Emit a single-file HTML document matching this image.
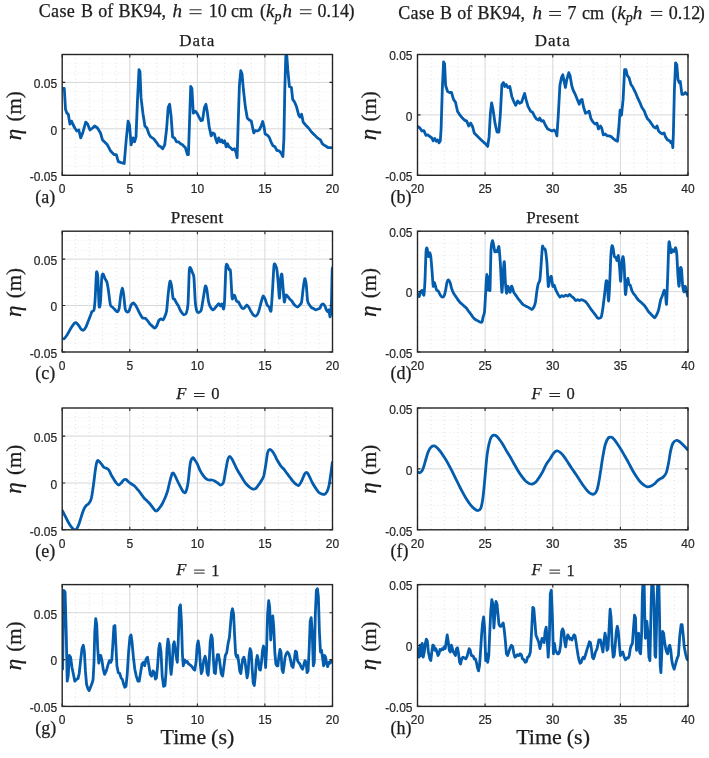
<!DOCTYPE html><html><head><meta charset="utf-8"><style>html,body{margin:0;padding:0;background:#fff}svg{display:block;filter:blur(0.35px)}.tk{font-family:"Liberation Sans",sans-serif;font-size:12px;fill:#262626;stroke:#262626;stroke-width:0.2px}.sf{font-family:"Liberation Serif",serif;fill:#1c1c1c;stroke:#1c1c1c;stroke-width:0.25px}</style></head><body>
<svg width="709" height="758" viewBox="0 0 709 758">
<rect width="709" height="758" fill="#fff"/>
<defs>
<clipPath id="cL0"><rect x="62.2" y="54.5" width="270.3" height="120.8"/></clipPath>
<clipPath id="cL1"><rect x="62.2" y="231.2" width="270.3" height="120.8"/></clipPath>
<clipPath id="cL2"><rect x="62.2" y="408.0" width="270.3" height="121.8"/></clipPath>
<clipPath id="cL3"><rect x="62.2" y="584.6" width="270.3" height="121.8"/></clipPath>
<clipPath id="cR0"><rect x="417.5" y="54.5" width="270.5" height="120.8"/></clipPath>
<clipPath id="cR1"><rect x="417.5" y="231.2" width="270.5" height="120.8"/></clipPath>
<clipPath id="cR2"><rect x="417.5" y="408.0" width="270.5" height="121.8"/></clipPath>
<clipPath id="cR3"><rect x="417.5" y="584.6" width="270.5" height="121.8"/></clipPath>
</defs>
<path d="M75.7 54.5V175.3M89.2 54.5V175.3M102.7 54.5V175.3M116.3 54.5V175.3M143.3 54.5V175.3M156.8 54.5V175.3M170.3 54.5V175.3M183.8 54.5V175.3M210.9 54.5V175.3M224.4 54.5V175.3M237.9 54.5V175.3M251.4 54.5V175.3M278.4 54.5V175.3M292.0 54.5V175.3M305.5 54.5V175.3M319.0 54.5V175.3" stroke="#e0e0e0" stroke-width="1" stroke-dasharray="1 3" fill="none"/>
<path d="M62.2 166.0H332.5M62.2 156.7H332.5M62.2 147.4H332.5M62.2 138.1H332.5M62.2 119.5H332.5M62.2 110.3H332.5M62.2 101.0H332.5M62.2 91.7H332.5M62.2 73.1H332.5M62.2 63.8H332.5" stroke="#ebebeb" stroke-width="1" stroke-dasharray="1 3" fill="none"/>
<path d="M129.8 54.5V175.3M197.4 54.5V175.3M264.9 54.5V175.3M62.2 128.8H332.5M62.2 82.4H332.5" stroke="#d8d8d8" stroke-width="1" fill="none"/>
<path d="M62.3 88.5 L64.3 88.5 L65.5 109.2 L66.9 113.2 L68.3 114.2 L69.9 124.0 L71.5 121.1 L72.8 124.0 L74.8 128.0 L76.8 131.0 L78.8 130.0 L80.7 137.9 L82.7 133.0 L85.7 122.1 L87.6 124.0 L90.0 130.0 L92.6 128.0 L94.6 126.0 L97.5 128.0 L100.5 133.0 L102.5 139.9 L104.4 141.8 L107.4 144.8 L110.4 150.7 L112.3 152.7 L114.3 154.7 L116.3 154.7 L118.3 161.6 L121.2 162.6 L124.2 163.5 L126.2 140.0 L128.1 121.1 L129.5 125.0 L131.1 144.8 L133.1 137.9 L134.6 141.8 L136.0 136.9 L137.5 100.0 L139.0 69.7 L140.0 71.7 L141.0 97.4 L142.9 113.2 L144.9 126.0 L146.9 128.0 L148.9 133.9 L150.8 136.9 L153.8 138.9 L156.8 142.8 L158.7 145.8 L160.7 146.8 L162.7 148.7 L164.7 144.8 L166.6 129.0 L168.2 107.3 L169.6 104.3 L171.0 115.2 L172.6 136.9 L174.5 137.9 L176.5 141.8 L178.5 141.8 L180.5 143.8 L182.4 144.8 L185.4 147.7 L187.4 154.7 L188.4 154.7 L189.3 129.0 L190.7 86.5 L191.9 88.5 L193.3 113.2 L195.3 111.2 L197.0 113.2 L199.0 117.1 L200.9 120.7 L202.5 120.1 L204.5 107.3 L205.9 104.3 L207.2 111.2 L209.2 127.0 L211.2 135.9 L212.8 132.9 L214.4 133.9 L215.7 138.9 L217.1 142.8 L218.7 137.9 L220.3 141.8 L221.7 139.9 L223.0 142.8 L224.6 140.8 L226.2 146.8 L227.6 143.8 L229.0 146.8 L230.5 147.7 L232.5 149.7 L234.5 148.7 L236.1 152.7 L237.1 157.6 L238.0 129.0 L239.4 85.5 L240.8 70.7 L242.0 73.7 L243.4 89.5 L245.4 107.3 L247.3 118.1 L249.3 120.1 L251.3 121.1 L252.7 128.0 L253.8 132.9 L255.2 130.6 L257.2 131.0 L259.2 130.0 L261.2 126.0 L262.7 121.5 L264.1 127.0 L265.1 133.9 L267.1 134.9 L269.1 136.9 L271.0 141.8 L273.0 145.8 L275.0 146.8 L277.0 150.7 L278.9 150.7 L280.9 152.7 L282.9 156.6 L283.9 138.9 L284.8 89.5 L285.8 55.9 L286.8 55.9 L287.8 69.7 L289.4 86.5 L291.4 87.5 L292.7 99.4 L294.7 102.3 L296.7 107.3 L298.7 115.2 L300.1 117.1 L301.6 114.2 L303.2 122.1 L305.6 125.0 L308.5 128.0 L311.5 132.0 L314.5 134.9 L317.4 137.9 L320.4 139.9 L322.4 143.8 L325.3 145.8 L328.3 147.7 L331.3 147.7 L332.5 148.0" stroke="#045cad" stroke-width="2.8" fill="none" stroke-linejoin="round" stroke-linecap="round" clip-path="url(#cL0)"/>
<path d="M62.2 175.3v-3M62.2 54.5v3M129.8 175.3v-3M129.8 54.5v3M197.4 175.3v-3M197.4 54.5v3M264.9 175.3v-3M264.9 54.5v3M332.5 175.3v-3M332.5 54.5v3M62.2 175.3h3M332.5 175.3h-3M62.2 128.8h3M332.5 128.8h-3M62.2 82.4h3M332.5 82.4h-3" stroke="#262626" stroke-width="1.1" fill="none"/>
<rect x="62.2" y="54.5" width="270.3" height="120.8" fill="none" stroke="#262626" stroke-width="1.4"/>
<text class="tk" x="62.2" y="193.3" text-anchor="middle">0</text>
<text class="tk" x="129.8" y="193.3" text-anchor="middle">5</text>
<text class="tk" x="197.4" y="193.3" text-anchor="middle">10</text>
<text class="tk" x="264.9" y="193.3" text-anchor="middle">15</text>
<text class="tk" x="332.5" y="193.3" text-anchor="middle">20</text>
<text class="tk" x="57.2" y="181.1" text-anchor="end">-0.05</text>
<text class="tk" x="57.2" y="134.6" text-anchor="end">0</text>
<text class="tk" x="57.2" y="88.2" text-anchor="end">0.05</text>
<text class="sf" x="35.2" y="202.5" font-size="18">(a)</text>
<text class="sf" transform="translate(20.6,141.4) rotate(-90)" font-size="21"><tspan x="1.2" font-style="italic" font-size="23">η</tspan><tspan x="19.8">(m)</tspan></text>
<text class="sf" x="179.3" y="45.8" font-size="17" letter-spacing="1">Data</text>
<path d="M431.0 54.5V175.3M444.6 54.5V175.3M458.1 54.5V175.3M471.6 54.5V175.3M498.6 54.5V175.3M512.2 54.5V175.3M525.7 54.5V175.3M539.2 54.5V175.3M566.3 54.5V175.3M579.8 54.5V175.3M593.3 54.5V175.3M606.9 54.5V175.3M633.9 54.5V175.3M647.4 54.5V175.3M661.0 54.5V175.3M674.5 54.5V175.3" stroke="#e0e0e0" stroke-width="1" stroke-dasharray="1 3" fill="none"/>
<path d="M417.5 163.2H688.0M417.5 151.1H688.0M417.5 139.1H688.0M417.5 127.0H688.0M417.5 102.8H688.0M417.5 90.7H688.0M417.5 78.7H688.0M417.5 66.6H688.0" stroke="#ebebeb" stroke-width="1" stroke-dasharray="1 3" fill="none"/>
<path d="M485.1 54.5V175.3M552.8 54.5V175.3M620.4 54.5V175.3M417.5 114.9H688.0" stroke="#d8d8d8" stroke-width="1" fill="none"/>
<path d="M418.0 126.6 L419.9 128.0 L421.9 131.0 L423.9 130.6 L425.9 135.3 L427.8 134.9 L429.8 136.5 L431.8 137.9 L433.2 140.8 L434.7 138.5 L436.3 141.2 L437.7 139.9 L439.1 142.8 L440.3 140.8 L441.1 129.0 L442.3 89.5 L443.6 61.8 L444.6 63.8 L445.6 85.5 L447.6 91.5 L449.6 92.5 L451.5 92.5 L453.5 99.4 L455.5 102.3 L457.5 111.2 L460.0 115.2 L462.4 118.1 L464.4 120.1 L466.7 121.1 L468.7 126.0 L470.7 123.1 L472.7 127.0 L474.2 132.9 L477.2 135.9 L480.2 138.9 L483.1 141.8 L486.1 144.4 L487.7 146.4 L489.1 136.9 L490.4 113.2 L491.6 102.9 L493.0 109.2 L495.0 123.1 L497.0 132.0 L498.9 132.0 L500.3 115.2 L501.9 84.6 L503.5 82.6 L504.8 86.5 L506.2 84.6 L507.8 87.5 L509.8 86.5 L511.8 96.4 L513.7 101.3 L515.7 105.3 L517.7 100.9 L519.7 103.3 L521.6 102.3 L523.2 97.4 L524.6 93.4 L526.0 99.4 L528.0 106.3 L530.5 111.2 L532.5 112.2 L534.5 116.2 L536.4 119.1 L538.4 120.1 L539.8 118.1 L541.4 121.1 L543.4 120.7 L545.3 125.0 L547.7 129.0 L550.0 130.0 L552.0 131.0 L554.0 130.0 L555.5 131.4 L556.9 135.9 L558.3 115.2 L559.9 85.5 L561.5 77.6 L562.8 74.7 L564.2 81.6 L565.4 87.5 L566.8 79.6 L568.8 72.7 L570.1 75.7 L571.7 85.5 L573.3 90.5 L575.3 94.4 L577.3 99.4 L579.2 104.3 L580.6 100.4 L582.0 99.4 L583.6 107.3 L585.5 113.2 L587.5 112.2 L589.1 111.2 L591.1 119.1 L593.0 122.1 L595.0 124.0 L597.0 123.1 L598.4 129.0 L600.4 126.0 L601.7 128.0 L603.3 134.9 L605.3 133.9 L607.3 135.9 L609.2 135.9 L611.6 136.9 L613.6 138.9 L615.6 140.4 L617.5 141.2 L618.7 129.0 L620.1 110.2 L621.5 115.2 L623.1 99.4 L624.6 69.7 L626.0 69.7 L627.4 75.7 L629.0 77.6 L631.0 84.6 L632.5 86.5 L633.9 89.5 L635.9 93.4 L637.9 98.4 L639.8 102.3 L641.8 107.3 L644.4 111.2 L645.8 115.2 L647.7 119.1 L649.7 121.1 L651.7 124.0 L653.7 127.0 L655.6 128.0 L657.0 126.0 L658.6 131.0 L660.6 132.9 L662.6 133.9 L664.1 132.9 L665.5 136.9 L667.5 139.9 L669.5 140.8 L670.9 142.8 L672.0 141.2 L672.8 147.7 L673.4 132.9 L674.4 89.5 L675.6 62.8 L676.8 64.8 L678.0 79.6 L679.3 82.6 L680.3 81.6 L681.9 94.4 L683.3 94.4 L685.3 92.5 L687.2 94.4 L688.0 94.0" stroke="#045cad" stroke-width="2.8" fill="none" stroke-linejoin="round" stroke-linecap="round" clip-path="url(#cR0)"/>
<path d="M417.5 175.3v-3M417.5 54.5v3M485.1 175.3v-3M485.1 54.5v3M552.8 175.3v-3M552.8 54.5v3M620.4 175.3v-3M620.4 54.5v3M688.0 175.3v-3M688.0 54.5v3M417.5 175.3h3M688.0 175.3h-3M417.5 114.9h3M688.0 114.9h-3M417.5 54.5h3M688.0 54.5h-3" stroke="#262626" stroke-width="1.1" fill="none"/>
<rect x="417.5" y="54.5" width="270.5" height="120.8" fill="none" stroke="#262626" stroke-width="1.4"/>
<text class="tk" x="417.5" y="193.3" text-anchor="middle">20</text>
<text class="tk" x="485.1" y="193.3" text-anchor="middle">25</text>
<text class="tk" x="552.8" y="193.3" text-anchor="middle">30</text>
<text class="tk" x="620.4" y="193.3" text-anchor="middle">35</text>
<text class="tk" x="688.0" y="193.3" text-anchor="middle">40</text>
<text class="tk" x="412.5" y="181.1" text-anchor="end">-0.05</text>
<text class="tk" x="412.5" y="120.7" text-anchor="end">0</text>
<text class="tk" x="412.5" y="60.3" text-anchor="end">0.05</text>
<text class="sf" x="390.5" y="202.5" font-size="18">(b)</text>
<text class="sf" transform="translate(375.9,141.4) rotate(-90)" font-size="21"><tspan x="1.2" font-style="italic" font-size="23">η</tspan><tspan x="19.8">(m)</tspan></text>
<text class="sf" x="534.8" y="45.8" font-size="17" letter-spacing="1">Data</text>
<path d="M75.7 231.2V352.0M89.2 231.2V352.0M102.7 231.2V352.0M116.3 231.2V352.0M143.3 231.2V352.0M156.8 231.2V352.0M170.3 231.2V352.0M183.8 231.2V352.0M210.9 231.2V352.0M224.4 231.2V352.0M237.9 231.2V352.0M251.4 231.2V352.0M278.4 231.2V352.0M292.0 231.2V352.0M305.5 231.2V352.0M319.0 231.2V352.0" stroke="#e0e0e0" stroke-width="1" stroke-dasharray="1 3" fill="none"/>
<path d="M62.2 342.7H332.5M62.2 333.4H332.5M62.2 324.1H332.5M62.2 314.8H332.5M62.2 296.2H332.5M62.2 287.0H332.5M62.2 277.7H332.5M62.2 268.4H332.5M62.2 249.8H332.5M62.2 240.5H332.5" stroke="#ebebeb" stroke-width="1" stroke-dasharray="1 3" fill="none"/>
<path d="M129.8 231.2V352.0M197.4 231.2V352.0M264.9 231.2V352.0M62.2 305.5H332.5M62.2 259.1H332.5" stroke="#d8d8d8" stroke-width="1" fill="none"/>
<path d="M62.4 338.6 C62.6 338.6 63.7 339.0 64.3 338.6 C64.9 338.2 66.2 336.2 66.9 335.2 C67.6 334.2 68.9 331.8 69.5 330.7 C70.1 329.6 71.2 327.6 71.8 326.7 C72.4 325.8 73.7 323.9 74.2 323.4 C74.8 322.9 75.6 322.5 76.2 322.8 C76.8 323.1 78.2 324.9 78.8 325.7 C79.4 326.5 80.7 328.8 81.3 329.3 C81.9 329.9 83.1 330.4 83.7 330.1 C84.3 329.8 85.6 327.7 86.1 326.7 C86.6 325.7 87.5 323.0 88.0 321.8 C88.5 320.6 89.5 318.1 90.0 316.8 C90.5 315.5 91.5 312.4 92.0 311.5 C92.5 310.6 93.6 311.6 94.0 309.9 C94.4 308.2 94.9 302.8 95.2 298.1 C95.5 293.4 96.2 274.9 96.5 272.4 C96.8 269.9 97.6 274.1 97.9 278.3 C98.2 282.5 98.8 303.0 99.1 306.0 C99.4 309.0 100.2 305.7 100.5 302.0 C100.8 298.3 101.5 279.8 101.9 276.4 C102.3 272.9 103.0 274.1 103.4 274.4 C103.8 274.7 104.5 277.7 105.0 278.7 C105.5 279.7 106.6 280.9 107.0 282.3 C107.4 283.7 108.0 287.4 108.4 290.2 C108.8 293.0 109.9 302.9 110.4 305.0 C110.9 307.1 111.8 306.5 112.3 307.0 C112.8 307.5 113.7 308.4 114.3 309.0 C114.9 309.6 116.7 312.0 117.3 311.9 C117.9 311.8 118.8 310.1 119.2 308.0 C119.6 305.9 120.4 297.6 120.8 295.1 C121.2 292.6 121.9 288.3 122.2 288.2 C122.5 288.1 123.2 291.5 123.6 294.1 C124.0 296.7 124.8 306.8 125.2 309.0 C125.6 311.2 126.6 311.7 127.1 311.9 C127.6 312.1 128.6 311.8 129.1 310.9 C129.6 310.0 130.5 306.0 131.1 305.0 C131.7 304.0 132.9 302.9 133.5 303.0 C134.1 303.1 135.4 305.1 136.0 306.0 C136.6 306.9 137.5 308.9 138.0 309.9 C138.5 310.9 139.4 312.9 140.0 313.9 C140.6 314.9 141.9 317.3 142.5 317.8 C143.1 318.3 144.3 317.9 144.9 318.2 C145.5 318.4 146.3 319.1 146.9 319.8 C147.5 320.5 149.2 323.1 149.8 323.8 C150.4 324.5 151.2 325.2 151.8 325.7 C152.4 326.2 153.8 328.1 154.4 328.1 C155.0 328.1 156.3 326.6 156.8 325.7 C157.3 324.8 158.2 321.7 158.7 320.8 C159.2 319.9 160.5 318.9 161.1 318.8 C161.7 318.7 162.7 320.1 163.1 319.8 C163.5 319.6 164.3 317.9 164.7 316.8 C165.1 315.7 166.2 313.7 166.6 310.9 C167.0 308.1 167.8 297.8 168.2 294.1 C168.6 290.4 169.6 282.3 170.0 281.3 C170.4 280.3 171.2 284.1 171.6 286.2 C172.0 288.3 172.6 296.5 173.0 298.1 C173.4 299.7 174.1 298.5 174.5 299.1 C174.9 299.7 176.0 302.1 176.5 303.0 C177.0 303.9 178.1 305.1 178.5 306.0 C178.9 306.9 179.7 309.0 180.1 309.9 C180.5 310.8 181.5 312.3 182.0 312.9 C182.5 313.5 183.4 314.9 184.0 314.9 C184.6 314.9 185.9 314.3 186.4 312.9 C186.9 311.5 187.6 309.3 188.0 304.0 C188.4 298.7 189.0 274.9 189.3 270.4 C189.6 265.9 190.3 267.9 190.7 268.1 C191.1 268.4 191.9 271.2 192.3 272.4 C192.7 273.6 193.5 273.7 193.9 277.4 C194.3 281.1 194.9 297.7 195.3 302.0 C195.7 306.3 196.5 310.2 197.0 311.5 C197.5 312.8 198.8 312.5 199.3 312.3 C199.8 312.1 200.8 311.7 201.3 309.9 C201.8 308.1 202.8 301.1 203.3 298.1 C203.8 295.1 204.9 287.3 205.3 286.2 C205.7 285.1 206.4 287.3 206.8 289.2 C207.2 291.1 208.0 298.8 208.4 301.0 C208.8 303.2 209.8 305.9 210.4 307.0 C211.0 308.1 212.3 309.7 212.8 309.9 C213.3 310.1 214.2 308.9 214.7 308.4 C215.2 307.9 216.2 306.6 216.7 306.0 C217.2 305.4 218.2 303.6 218.7 303.6 C219.1 303.6 219.9 305.9 220.3 306.0 C220.7 306.1 221.5 303.6 221.9 304.0 C222.3 304.4 223.3 309.5 223.6 309.0 C223.9 308.5 224.3 305.4 224.6 300.1 C224.9 294.8 225.6 270.8 226.0 266.5 C226.4 262.2 227.2 265.1 227.6 265.5 C228.0 265.9 228.6 268.8 229.0 269.5 C229.4 270.2 230.1 267.8 230.5 271.4 C230.9 275.0 231.7 295.1 232.1 298.1 C232.5 301.1 233.2 295.4 233.5 295.1 C233.8 294.9 234.5 295.4 234.9 296.1 C235.3 296.8 236.1 300.3 236.5 301.0 C236.9 301.7 237.9 301.4 238.4 302.0 C238.9 302.6 239.9 304.8 240.4 305.6 C240.9 306.4 241.9 308.1 242.4 308.4 C242.9 308.7 243.9 308.4 244.4 308.0 C244.9 307.6 246.2 305.1 246.7 305.0 C247.2 304.9 248.2 306.3 248.7 307.0 C249.2 307.7 250.1 309.9 250.7 310.9 C251.3 311.9 252.6 314.3 253.3 314.9 C254.0 315.5 255.5 316.3 256.2 315.9 C256.9 315.5 258.0 313.6 258.6 311.9 C259.2 310.2 260.6 304.0 261.2 302.0 C261.8 300.0 262.6 296.5 263.1 296.1 C263.6 295.7 264.6 298.0 265.1 299.1 C265.6 300.2 266.6 304.0 267.1 305.0 C267.6 306.0 268.6 306.3 269.1 307.0 C269.6 307.7 270.6 312.8 271.0 310.9 C271.4 309.0 272.0 297.9 272.4 292.2 C272.8 286.5 273.6 268.8 274.0 265.5 C274.4 262.2 275.2 264.9 275.6 265.5 C276.0 266.1 276.7 268.0 277.0 270.4 C277.3 272.8 278.0 280.8 278.3 284.3 C278.6 287.8 279.2 298.9 279.5 298.1 C279.8 297.4 280.4 281.3 280.7 278.3 C281.0 275.3 281.6 273.2 281.9 274.4 C282.2 275.6 282.8 284.8 283.1 288.2 C283.4 291.6 284.0 301.1 284.3 302.0 C284.6 302.9 285.4 295.8 285.8 295.1 C286.2 294.4 287.3 296.0 287.8 296.5 C288.3 297.0 289.3 298.5 289.8 299.1 C290.3 299.7 291.3 300.4 291.8 301.0 C292.3 301.6 293.2 303.4 293.7 304.0 C294.2 304.6 295.2 305.6 295.7 306.0 C296.2 306.4 297.2 307.1 297.7 307.0 C298.2 306.9 299.2 305.6 299.7 305.0 C300.2 304.4 301.2 304.1 301.6 302.0 C302.0 299.9 302.8 291.1 303.2 288.2 C303.6 285.3 304.4 279.2 304.8 278.7 C305.2 278.2 305.8 281.5 306.2 284.3 C306.6 287.1 307.2 298.4 307.6 301.0 C308.0 303.6 309.0 304.2 309.5 305.0 C310.0 305.8 311.0 307.2 311.5 307.6 C312.0 308.0 312.9 308.1 313.5 308.4 C314.1 308.7 315.4 309.8 315.9 309.9 C316.4 310.0 317.3 309.2 317.8 309.0 C318.3 308.8 319.4 308.9 319.8 308.4 C320.2 307.9 320.9 305.6 321.4 305.0 C321.8 304.4 323.0 303.9 323.4 304.0 C323.8 304.1 324.5 305.3 324.9 306.0 C325.3 306.7 325.9 309.2 326.3 309.9 C326.7 310.6 327.4 311.9 327.7 311.9 C328.0 311.9 328.6 309.3 328.9 309.9 C329.2 310.5 329.8 317.3 330.1 316.8 C330.4 316.3 331.0 311.8 331.3 306.0 C331.6 300.2 332.0 275.1 332.2 270.4 C332.4 265.7 332.7 268.7 332.8 268.5" stroke="#045cad" stroke-width="2.8" fill="none" stroke-linejoin="round" stroke-linecap="round" clip-path="url(#cL1)"/>
<path d="M62.2 352.0v-3M62.2 231.2v3M129.8 352.0v-3M129.8 231.2v3M197.4 352.0v-3M197.4 231.2v3M264.9 352.0v-3M264.9 231.2v3M332.5 352.0v-3M332.5 231.2v3M62.2 352.0h3M332.5 352.0h-3M62.2 305.5h3M332.5 305.5h-3M62.2 259.1h3M332.5 259.1h-3" stroke="#262626" stroke-width="1.1" fill="none"/>
<rect x="62.2" y="231.2" width="270.3" height="120.8" fill="none" stroke="#262626" stroke-width="1.4"/>
<text class="tk" x="62.2" y="370.0" text-anchor="middle">0</text>
<text class="tk" x="129.8" y="370.0" text-anchor="middle">5</text>
<text class="tk" x="197.4" y="370.0" text-anchor="middle">10</text>
<text class="tk" x="264.9" y="370.0" text-anchor="middle">15</text>
<text class="tk" x="332.5" y="370.0" text-anchor="middle">20</text>
<text class="tk" x="57.2" y="357.8" text-anchor="end">-0.05</text>
<text class="tk" x="57.2" y="311.3" text-anchor="end">0</text>
<text class="tk" x="57.2" y="264.9" text-anchor="end">0.05</text>
<text class="sf" x="35.2" y="379.2" font-size="18">(c)</text>
<text class="sf" transform="translate(20.6,318.1) rotate(-90)" font-size="21"><tspan x="1.2" font-style="italic" font-size="23">η</tspan><tspan x="19.8">(m)</tspan></text>
<text class="sf" x="170.8" y="222.5" font-size="17" letter-spacing="0.4">Present</text>
<path d="M431.0 231.2V352.0M444.6 231.2V352.0M458.1 231.2V352.0M471.6 231.2V352.0M498.6 231.2V352.0M512.2 231.2V352.0M525.7 231.2V352.0M539.2 231.2V352.0M566.3 231.2V352.0M579.8 231.2V352.0M593.3 231.2V352.0M606.9 231.2V352.0M633.9 231.2V352.0M647.4 231.2V352.0M661.0 231.2V352.0M674.5 231.2V352.0" stroke="#e0e0e0" stroke-width="1" stroke-dasharray="1 3" fill="none"/>
<path d="M417.5 339.9H688.0M417.5 327.8H688.0M417.5 315.8H688.0M417.5 303.7H688.0M417.5 279.5H688.0M417.5 267.4H688.0M417.5 255.4H688.0M417.5 243.3H688.0" stroke="#ebebeb" stroke-width="1" stroke-dasharray="1 3" fill="none"/>
<path d="M485.1 231.2V352.0M552.8 231.2V352.0M620.4 231.2V352.0M417.5 291.6H688.0" stroke="#d8d8d8" stroke-width="1" fill="none"/>
<path d="M418.0 294.1 C418.2 294.4 418.9 296.9 419.3 296.5 C419.7 296.1 420.5 291.9 420.9 291.2 C421.3 290.5 422.1 290.1 422.5 290.6 C422.9 291.1 423.6 296.1 423.9 295.1 C424.2 294.1 424.6 287.9 424.9 282.3 C425.2 276.8 425.8 254.9 426.1 250.7 C426.4 246.5 426.9 248.0 427.2 248.7 C427.5 249.4 428.1 256.1 428.4 256.6 C428.7 257.1 429.3 252.7 429.6 252.7 C429.9 252.7 430.5 254.4 430.8 256.6 C431.1 258.8 431.7 266.7 432.0 270.4 C432.3 274.1 432.9 284.7 433.2 286.2 C433.5 287.7 434.1 282.3 434.4 282.3 C434.7 282.3 435.2 285.2 435.5 286.2 C435.8 287.2 436.3 289.6 436.7 290.2 C437.1 290.8 437.9 290.6 438.3 291.2 C438.8 291.8 439.8 294.4 440.3 295.1 C440.8 295.8 441.8 297.0 442.3 297.1 C442.8 297.2 443.8 296.6 444.2 295.7 C444.6 294.8 445.2 291.9 445.6 290.2 C446.0 288.5 446.6 283.6 447.0 282.3 C447.4 281.0 448.2 279.8 448.6 279.9 C449.0 279.9 449.8 281.7 450.2 282.7 C450.6 283.7 451.1 286.9 451.5 288.2 C451.9 289.5 453.0 292.2 453.5 293.2 C454.0 294.2 455.0 295.4 455.5 296.1 C456.0 296.8 457.0 298.4 457.5 299.1 C458.0 299.8 458.9 301.0 459.4 301.6 C459.9 302.2 460.8 303.1 461.4 303.6 C462.0 304.2 463.4 305.4 464.0 306.0 C464.6 306.6 465.8 307.4 466.3 308.0 C466.8 308.6 467.8 310.2 468.3 310.9 C468.9 311.6 470.1 313.2 470.7 313.9 C471.2 314.6 472.1 316.1 472.7 316.8 C473.3 317.5 474.6 318.9 475.2 319.4 C475.8 319.9 477.2 320.4 477.8 320.8 C478.4 321.2 479.7 322.1 480.2 322.2 C480.7 322.3 481.7 322.5 482.1 321.8 C482.5 321.1 482.8 318.0 483.1 316.8 C483.4 315.6 484.2 315.0 484.5 311.9 C484.8 308.8 485.4 296.9 485.7 292.2 C486.0 287.5 486.4 274.6 486.7 274.4 C487.0 274.1 487.8 289.9 488.1 290.2 C488.4 290.4 488.9 276.4 489.1 276.4 C489.3 276.4 489.8 293.4 490.0 290.2 C490.2 287.0 490.7 256.9 491.0 250.7 C491.3 244.5 492.1 241.5 492.4 240.8 C492.7 240.1 493.3 243.4 493.6 244.8 C493.9 246.2 494.5 251.0 494.8 251.7 C495.1 252.4 496.1 250.7 496.4 250.7 C496.7 250.7 497.2 252.2 497.5 251.7 C497.8 251.2 498.5 245.3 498.9 246.7 C499.2 248.0 499.9 256.8 500.3 262.5 C500.7 268.2 501.5 290.7 501.9 292.2 C502.2 293.7 502.8 278.2 503.1 274.4 C503.4 270.6 504.0 260.6 504.3 261.6 C504.6 262.6 505.1 278.4 505.4 282.3 C505.7 286.2 506.3 292.7 506.6 293.2 C506.9 293.7 507.5 286.6 507.8 286.2 C508.1 285.8 508.7 289.4 509.0 290.2 C509.3 290.9 509.9 292.7 510.2 292.2 C510.5 291.7 511.1 286.7 511.4 286.2 C511.7 285.7 512.3 287.4 512.6 288.2 C512.9 288.9 513.3 291.3 513.7 292.2 C514.1 293.1 515.2 294.4 515.7 295.1 C516.2 295.8 517.2 297.4 517.7 298.1 C518.2 298.8 519.2 299.9 519.7 300.5 C520.2 301.1 521.1 302.4 521.6 303.0 C522.1 303.6 523.1 304.6 523.6 305.0 C524.1 305.4 525.1 305.8 525.6 306.0 C526.1 306.2 527.1 306.8 527.6 307.0 C528.1 307.2 529.0 307.7 529.5 308.0 C530.0 308.3 531.4 309.6 531.9 309.5 C532.4 309.4 533.4 307.9 533.9 307.0 C534.4 306.1 535.1 304.1 535.5 302.0 C535.9 299.9 536.6 292.5 537.0 290.2 C537.4 287.9 538.0 284.5 538.4 283.3 C538.8 282.1 539.5 282.4 539.8 280.3 C540.1 278.2 540.7 270.7 541.0 266.5 C541.3 262.3 542.1 248.9 542.4 246.7 C542.7 244.5 543.3 248.3 543.7 248.7 C544.1 249.1 544.9 248.0 545.3 249.7 C545.7 251.4 546.5 257.9 546.9 262.5 C547.3 267.1 547.9 284.1 548.3 286.2 C548.6 288.3 549.3 280.5 549.7 279.3 C550.1 278.1 550.9 275.5 551.3 276.4 C551.7 277.3 552.4 285.1 552.8 286.2 C553.2 287.3 553.9 284.8 554.3 285.3 C554.7 285.8 555.4 289.1 555.9 290.2 C556.4 291.3 557.4 293.2 557.9 294.1 C558.4 295.0 559.4 296.9 559.9 297.1 C560.4 297.3 561.3 295.8 561.8 295.7 C562.3 295.6 563.3 296.6 563.8 296.5 C564.3 296.4 565.3 295.2 565.8 295.1 C566.3 295.1 567.3 296.2 567.8 296.1 C568.3 296.0 569.2 294.4 569.7 294.5 C570.2 294.6 571.2 296.1 571.7 296.5 C572.2 296.9 573.2 297.6 573.7 298.1 C574.2 298.6 575.2 300.3 575.7 300.5 C576.2 300.7 577.1 299.7 577.6 299.7 C578.1 299.7 579.1 300.5 579.6 300.5 C580.1 300.5 581.1 299.7 581.6 299.7 C582.1 299.7 583.1 300.3 583.6 300.5 C584.1 300.7 585.0 301.2 585.5 301.6 C586.0 302.0 587.0 303.3 587.5 304.0 C588.0 304.7 589.0 306.3 589.5 307.0 C590.0 307.7 591.0 309.2 591.5 309.9 C592.0 310.6 592.9 311.7 593.4 312.3 C593.9 312.9 594.9 314.2 595.4 314.9 C595.9 315.6 596.9 317.4 597.4 317.8 C597.9 318.2 598.9 318.3 599.4 318.2 C599.9 318.1 600.9 318.1 601.3 316.8 C601.7 315.5 602.5 310.7 602.9 308.0 C603.3 305.3 604.1 298.4 604.5 295.1 C604.9 291.8 605.8 282.8 606.1 281.3 C606.5 279.8 607.0 280.8 607.3 283.3 C607.6 285.8 608.2 300.6 608.5 301.0 C608.8 301.4 609.3 291.8 609.6 286.2 C609.9 280.6 610.5 261.7 610.8 256.6 C611.1 251.6 611.7 246.8 612.0 245.8 C612.3 244.8 612.9 247.3 613.2 248.7 C613.5 250.0 614.0 255.5 614.4 256.6 C614.8 257.7 615.7 257.1 616.0 257.6 C616.3 258.1 616.8 260.9 617.1 260.6 C617.4 260.4 618.0 254.9 618.3 255.6 C618.6 256.3 619.2 263.3 619.5 266.5 C619.8 269.7 620.4 281.8 620.7 281.3 C621.0 280.8 621.6 265.6 621.9 262.5 C622.2 259.4 622.8 256.1 623.1 256.6 C623.4 257.1 623.9 261.8 624.2 266.5 C624.5 271.2 625.1 291.8 625.4 294.1 C625.7 296.5 626.3 287.3 626.6 285.3 C626.9 283.3 627.5 278.4 627.8 278.3 C628.1 278.2 628.7 283.4 629.0 284.3 C629.3 285.2 629.9 284.6 630.2 285.3 C630.6 286.0 631.4 289.2 631.8 290.2 C632.2 291.2 632.9 292.6 633.3 293.2 C633.7 293.8 634.4 294.5 634.9 295.1 C635.4 295.7 636.4 297.4 636.9 298.1 C637.4 298.8 638.4 300.0 638.9 300.5 C639.4 301.0 640.3 301.6 640.8 302.0 C641.3 302.4 642.3 303.5 642.8 304.0 C643.3 304.5 644.3 305.4 644.8 306.0 C645.3 306.6 646.3 308.3 646.8 309.0 C647.3 309.7 648.2 311.3 648.7 311.9 C649.2 312.5 650.2 313.4 650.7 313.9 C651.2 314.4 652.2 315.4 652.7 315.9 C653.2 316.4 654.2 317.9 654.7 317.8 C655.2 317.7 656.1 315.9 656.6 314.9 C657.1 313.9 658.1 311.8 658.6 309.9 C659.1 308.0 660.1 302.0 660.6 300.1 C661.1 298.2 662.2 296.3 662.6 295.1 C663.0 293.9 663.7 290.3 664.1 290.2 C664.5 290.1 665.2 292.4 665.5 294.1 C665.8 295.8 666.2 306.2 666.5 304.0 C666.8 301.8 667.4 284.0 667.7 276.4 C668.0 268.8 668.6 246.5 668.9 242.8 C669.2 239.1 669.8 245.5 670.1 246.7 C670.4 247.9 670.9 252.3 671.2 252.7 C671.5 253.1 672.0 249.8 672.4 249.7 C672.8 249.6 673.6 251.9 674.0 251.7 C674.4 251.4 675.2 247.3 675.6 247.7 C676.0 248.1 676.5 251.0 676.8 254.6 C677.1 258.2 677.7 272.4 678.0 276.4 C678.3 280.3 678.8 287.2 679.1 286.2 C679.4 285.2 680.0 270.6 680.3 268.5 C680.6 266.4 681.2 267.3 681.5 269.5 C681.8 271.7 682.4 283.4 682.7 286.2 C683.0 289.0 683.6 292.2 683.9 292.2 C684.2 292.2 684.8 286.4 685.1 286.2 C685.4 285.9 686.0 289.0 686.3 290.2 C686.6 291.4 687.4 295.4 687.6 296.1" stroke="#045cad" stroke-width="2.8" fill="none" stroke-linejoin="round" stroke-linecap="round" clip-path="url(#cR1)"/>
<path d="M417.5 352.0v-3M417.5 231.2v3M485.1 352.0v-3M485.1 231.2v3M552.8 352.0v-3M552.8 231.2v3M620.4 352.0v-3M620.4 231.2v3M688.0 352.0v-3M688.0 231.2v3M417.5 352.0h3M688.0 352.0h-3M417.5 291.6h3M688.0 291.6h-3M417.5 231.2h3M688.0 231.2h-3" stroke="#262626" stroke-width="1.1" fill="none"/>
<rect x="417.5" y="231.2" width="270.5" height="120.8" fill="none" stroke="#262626" stroke-width="1.4"/>
<text class="tk" x="417.5" y="370.0" text-anchor="middle">20</text>
<text class="tk" x="485.1" y="370.0" text-anchor="middle">25</text>
<text class="tk" x="552.8" y="370.0" text-anchor="middle">30</text>
<text class="tk" x="620.4" y="370.0" text-anchor="middle">35</text>
<text class="tk" x="688.0" y="370.0" text-anchor="middle">40</text>
<text class="tk" x="412.5" y="357.8" text-anchor="end">-0.05</text>
<text class="tk" x="412.5" y="297.4" text-anchor="end">0</text>
<text class="tk" x="412.5" y="237.0" text-anchor="end">0.05</text>
<text class="sf" x="390.5" y="379.2" font-size="18">(d)</text>
<text class="sf" transform="translate(375.9,318.1) rotate(-90)" font-size="21"><tspan x="1.2" font-style="italic" font-size="23">η</tspan><tspan x="19.8">(m)</tspan></text>
<text class="sf" x="526.2" y="222.5" font-size="17" letter-spacing="0.4">Present</text>
<path d="M75.7 408.0V529.8M89.2 408.0V529.8M102.7 408.0V529.8M116.3 408.0V529.8M143.3 408.0V529.8M156.8 408.0V529.8M170.3 408.0V529.8M183.8 408.0V529.8M210.9 408.0V529.8M224.4 408.0V529.8M237.9 408.0V529.8M251.4 408.0V529.8M278.4 408.0V529.8M292.0 408.0V529.8M305.5 408.0V529.8M319.0 408.0V529.8" stroke="#e0e0e0" stroke-width="1" stroke-dasharray="1 3" fill="none"/>
<path d="M62.2 520.4H332.5M62.2 511.1H332.5M62.2 501.7H332.5M62.2 492.3H332.5M62.2 473.6H332.5M62.2 464.2H332.5M62.2 454.8H332.5M62.2 445.5H332.5M62.2 426.7H332.5M62.2 417.4H332.5" stroke="#ebebeb" stroke-width="1" stroke-dasharray="1 3" fill="none"/>
<path d="M129.8 408.0V529.8M197.4 408.0V529.8M264.9 408.0V529.8M62.2 483.0H332.5M62.2 436.1H332.5" stroke="#d8d8d8" stroke-width="1" fill="none"/>
<path d="M62.4 510.6 C62.8 511.4 64.0 513.8 64.9 515.6 C65.8 517.4 66.9 519.7 67.9 521.5 C68.9 523.3 69.9 525.1 70.9 526.4 C71.9 527.7 72.9 528.9 73.8 529.4 C74.7 529.9 75.4 530.2 76.2 529.4 C77.0 528.6 78.0 526.6 78.8 524.5 C79.6 522.4 80.5 519.1 81.3 516.6 C82.1 514.1 82.9 511.4 83.7 509.6 C84.5 507.8 85.3 506.7 86.1 505.7 C86.9 504.7 87.8 504.8 88.6 503.7 C89.4 502.6 90.4 501.6 91.2 498.8 C92.0 496.0 92.5 491.5 93.2 486.9 C93.9 482.3 94.6 475.4 95.2 471.1 C95.8 466.8 96.4 462.9 97.1 461.3 C97.8 459.7 98.4 460.8 99.1 461.3 C99.8 461.8 100.7 463.2 101.5 464.2 C102.3 465.2 103.0 466.5 103.8 467.2 C104.6 467.9 105.5 467.7 106.4 468.2 C107.3 468.7 108.2 469.0 109.0 470.2 C109.8 471.4 110.5 473.6 111.3 475.1 C112.1 476.6 112.9 477.7 113.7 479.0 C114.5 480.3 115.5 482.0 116.3 483.0 C117.1 484.0 118.0 485.0 118.8 485.0 C119.6 485.0 120.4 483.8 121.2 483.0 C122.0 482.2 122.8 480.6 123.6 480.0 C124.4 479.4 125.4 479.3 126.2 479.6 C127.0 479.9 127.8 481.3 128.7 482.0 C129.6 482.7 130.5 483.3 131.5 484.0 C132.5 484.7 133.5 485.0 134.6 486.0 C135.7 487.0 136.9 488.6 138.0 489.9 C139.1 491.2 140.0 492.5 141.0 493.8 C142.0 495.1 142.9 496.6 143.9 497.8 C144.9 499.0 145.9 499.8 146.9 500.8 C147.9 501.8 148.8 502.6 149.8 503.7 C150.8 504.8 151.9 506.5 152.8 507.7 C153.7 508.9 154.5 510.1 155.2 510.6 C155.9 511.1 156.4 511.1 157.2 510.6 C157.9 510.1 158.8 508.9 159.7 507.7 C160.5 506.5 161.4 505.3 162.3 503.7 C163.2 502.1 164.2 499.9 165.1 497.8 C166.0 495.7 166.8 493.9 167.6 490.9 C168.4 487.9 169.4 483.0 170.2 480.0 C171.0 477.0 171.8 473.9 172.6 473.1 C173.4 472.4 174.1 474.2 174.9 475.5 C175.7 476.8 176.6 479.1 177.5 481.0 C178.4 482.9 179.5 485.1 180.5 486.9 C181.5 488.7 182.5 491.1 183.4 491.9 C184.3 492.7 185.0 493.4 185.8 491.9 C186.6 490.4 187.2 487.8 188.0 483.0 C188.8 478.2 189.5 467.4 190.3 463.2 C191.1 459.0 191.9 458.2 192.7 457.7 C193.5 457.2 194.2 459.2 195.0 460.3 C195.8 461.4 196.6 462.6 197.4 464.2 C198.2 465.8 199.0 468.4 199.9 470.2 C200.8 472.0 201.9 473.7 202.9 475.1 C203.9 476.5 204.9 477.8 205.9 478.6 C206.9 479.4 207.8 479.8 208.8 480.0 C209.8 480.2 210.8 479.8 211.8 480.0 C212.8 480.2 213.7 480.5 214.7 481.0 C215.7 481.5 216.6 482.3 217.7 483.0 C218.8 483.7 220.1 485.2 221.1 485.0 C222.1 484.8 222.8 484.3 223.6 482.0 C224.3 479.7 224.9 474.7 225.6 471.1 C226.3 467.5 226.9 462.8 227.6 460.3 C228.3 457.8 228.8 456.5 229.6 456.3 C230.3 456.1 231.3 458.0 232.1 459.3 C232.9 460.6 233.6 462.4 234.5 464.2 C235.4 466.0 236.5 468.4 237.5 470.2 C238.5 472.0 239.4 473.5 240.4 475.1 C241.4 476.7 242.4 478.5 243.4 480.0 C244.4 481.5 245.3 482.9 246.3 484.0 C247.3 485.1 248.3 486.1 249.3 486.9 C250.3 487.7 251.3 488.6 252.3 488.9 C253.3 489.2 254.2 489.5 255.2 488.9 C256.2 488.3 257.2 486.7 258.2 485.4 C259.2 484.1 260.3 482.6 261.2 481.0 C262.1 479.4 262.9 478.7 263.7 476.1 C264.4 473.5 265.0 469.1 265.7 465.2 C266.4 461.2 267.0 455.0 267.7 452.4 C268.4 449.8 269.2 449.6 270.0 449.4 C270.8 449.2 271.6 450.3 272.4 451.4 C273.2 452.4 274.1 454.0 275.0 455.7 C275.9 457.4 276.9 459.6 277.9 461.3 C278.9 463.1 279.9 464.9 280.9 466.2 C281.9 467.5 282.9 468.0 283.9 469.2 C284.9 470.4 285.8 471.8 286.8 473.1 C287.8 474.4 288.8 475.8 289.8 477.1 C290.8 478.4 291.7 479.9 292.7 481.0 C293.7 482.1 294.7 483.3 295.7 484.0 C296.7 484.7 297.7 485.9 298.7 485.4 C299.7 484.9 300.6 482.9 301.6 481.0 C302.6 479.1 303.7 475.5 304.6 474.1 C305.5 472.7 306.4 472.3 307.2 472.7 C308.0 473.1 308.6 475.0 309.5 476.7 C310.4 478.4 311.5 481.1 312.5 483.0 C313.5 484.9 314.5 486.4 315.5 487.9 C316.5 489.4 317.4 490.9 318.4 491.9 C319.4 492.9 320.4 493.4 321.4 493.8 C322.4 494.2 323.4 494.7 324.3 494.4 C325.2 494.1 326.1 493.3 326.9 491.9 C327.7 490.5 328.2 489.1 328.9 486.0 C329.6 482.9 330.3 477.1 330.9 473.1 C331.5 469.2 332.1 464.1 332.4 462.3" stroke="#045cad" stroke-width="2.8" fill="none" stroke-linejoin="round" stroke-linecap="round" clip-path="url(#cL2)"/>
<path d="M62.2 529.8v-3M62.2 408.0v3M129.8 529.8v-3M129.8 408.0v3M197.4 529.8v-3M197.4 408.0v3M264.9 529.8v-3M264.9 408.0v3M332.5 529.8v-3M332.5 408.0v3M62.2 529.8h3M332.5 529.8h-3M62.2 483.0h3M332.5 483.0h-3M62.2 436.1h3M332.5 436.1h-3" stroke="#262626" stroke-width="1.1" fill="none"/>
<rect x="62.2" y="408.0" width="270.3" height="121.8" fill="none" stroke="#262626" stroke-width="1.4"/>
<text class="tk" x="62.2" y="547.8" text-anchor="middle">0</text>
<text class="tk" x="129.8" y="547.8" text-anchor="middle">5</text>
<text class="tk" x="197.4" y="547.8" text-anchor="middle">10</text>
<text class="tk" x="264.9" y="547.8" text-anchor="middle">15</text>
<text class="tk" x="332.5" y="547.8" text-anchor="middle">20</text>
<text class="tk" x="57.2" y="535.6" text-anchor="end">-0.05</text>
<text class="tk" x="57.2" y="488.8" text-anchor="end">0</text>
<text class="tk" x="57.2" y="441.9" text-anchor="end">0.05</text>
<text class="sf" x="35.2" y="557.0" font-size="18">(e)</text>
<text class="sf" transform="translate(20.6,494.9) rotate(-90)" font-size="21"><tspan x="1.2" font-style="italic" font-size="23">η</tspan><tspan x="19.8">(m)</tspan></text>
<text class="sf" x="176.2" y="398.7" font-size="16.5" font-style="italic">F</text>
<rect x="194.04999999999998" y="393.02" width="10.6" height="0.95" fill="#1c1c1c"/>
<rect x="194.04999999999998" y="396.02" width="10.6" height="0.95" fill="#1c1c1c"/>
<text class="sf" x="211.2" y="398.9" font-size="16.5">0</text>
<path d="M431.0 408.0V529.8M444.6 408.0V529.8M458.1 408.0V529.8M471.6 408.0V529.8M498.6 408.0V529.8M512.2 408.0V529.8M525.7 408.0V529.8M539.2 408.0V529.8M566.3 408.0V529.8M579.8 408.0V529.8M593.3 408.0V529.8M606.9 408.0V529.8M633.9 408.0V529.8M647.4 408.0V529.8M661.0 408.0V529.8M674.5 408.0V529.8" stroke="#e0e0e0" stroke-width="1" stroke-dasharray="1 3" fill="none"/>
<path d="M417.5 517.6H688.0M417.5 505.4H688.0M417.5 493.3H688.0M417.5 481.1H688.0M417.5 456.7H688.0M417.5 444.5H688.0M417.5 432.4H688.0M417.5 420.2H688.0" stroke="#ebebeb" stroke-width="1" stroke-dasharray="1 3" fill="none"/>
<path d="M485.1 408.0V529.8M552.8 408.0V529.8M620.4 408.0V529.8M417.5 468.9H688.0" stroke="#d8d8d8" stroke-width="1" fill="none"/>
<path d="M418.0 472.1 C418.3 472.2 419.2 472.9 419.9 472.7 C420.5 472.5 421.2 472.2 421.9 471.1 C422.6 470.0 423.2 468.2 423.9 466.2 C424.6 464.2 425.1 461.8 425.9 459.3 C426.6 456.8 427.5 453.4 428.4 451.4 C429.3 449.3 430.2 447.9 431.2 447.0 C432.2 446.1 433.4 445.8 434.4 445.9 C435.4 446.0 436.1 446.9 437.1 447.8 C438.1 448.7 439.2 450.0 440.3 451.4 C441.4 452.8 442.5 454.6 443.6 456.3 C444.7 458.0 445.9 459.7 447.0 461.7 C448.1 463.7 449.2 465.8 450.5 468.2 C451.8 470.6 453.2 473.5 454.5 476.1 C455.8 478.7 457.1 481.4 458.4 484.0 C459.7 486.6 461.1 489.4 462.4 491.9 C463.7 494.4 465.0 496.7 466.3 498.8 C467.6 500.9 469.0 503.1 470.3 504.7 C471.6 506.3 472.9 507.7 474.2 508.7 C475.4 509.7 476.7 510.6 477.8 510.6 C478.9 510.6 479.8 510.3 480.6 508.7 C481.4 507.1 481.9 504.4 482.5 500.8 C483.1 497.2 483.6 492.2 484.1 486.9 C484.6 481.6 485.2 474.8 485.7 469.2 C486.2 463.6 486.7 457.7 487.3 453.4 C487.9 449.1 488.5 446.1 489.1 443.5 C489.7 440.9 490.2 439.0 491.0 437.6 C491.8 436.2 492.7 435.5 493.6 435.2 C494.5 434.9 495.4 435.3 496.4 436.0 C497.4 436.7 498.4 438.1 499.5 439.5 C500.6 440.9 501.8 442.7 502.9 444.5 C504.0 446.3 505.0 448.4 506.2 450.4 C507.4 452.4 508.6 454.2 509.8 456.3 C511.1 458.4 512.4 460.9 513.7 463.2 C515.0 465.5 516.4 468.0 517.7 470.2 C519.0 472.4 520.3 474.3 521.6 476.1 C522.9 477.9 524.4 479.8 525.6 481.0 C526.9 482.2 528.0 482.9 529.1 483.4 C530.2 483.9 531.4 484.2 532.5 484.0 C533.6 483.8 534.8 483.1 535.9 482.0 C537.0 480.9 538.2 478.9 539.4 477.1 C540.6 475.3 541.9 473.2 543.0 471.1 C544.1 469.0 545.1 466.2 546.3 464.2 C547.5 462.2 549.0 460.5 550.0 459.0 C551.0 457.5 551.6 456.2 552.4 455.0 C553.2 453.8 554.0 452.5 554.9 451.8 C555.8 451.1 556.9 450.8 557.9 451.0 C558.9 451.2 559.8 452.0 560.9 453.0 C562.0 454.0 563.1 455.3 564.2 456.9 C565.4 458.4 566.5 460.4 567.8 462.3 C569.0 464.2 570.4 466.2 571.7 468.2 C573.0 470.2 574.4 472.1 575.7 474.1 C577.0 476.1 578.3 478.0 579.6 480.0 C580.9 482.0 582.3 484.2 583.6 486.0 C584.9 487.8 586.2 489.6 587.5 490.9 C588.8 492.2 590.0 493.3 591.1 493.8 C592.2 494.3 593.4 494.5 594.4 493.8 C595.4 493.1 596.2 492.0 597.0 489.9 C597.8 487.8 598.4 484.4 599.0 481.0 C599.6 477.6 600.2 473.3 600.9 469.2 C601.5 465.1 602.2 460.4 602.9 456.3 C603.6 452.2 604.4 447.6 605.3 444.5 C606.2 441.4 607.3 439.2 608.3 438.0 C609.3 436.8 610.2 436.9 611.2 437.2 C612.2 437.4 613.2 438.4 614.2 439.5 C615.2 440.6 616.0 441.9 617.1 443.5 C618.2 445.1 619.5 447.0 620.7 449.0 C622.0 451.0 623.3 453.4 624.6 455.7 C625.9 458.0 627.3 460.4 628.6 462.8 C629.9 465.2 631.2 467.9 632.5 470.2 C633.8 472.5 635.2 474.7 636.5 476.7 C637.8 478.7 639.1 480.6 640.4 482.0 C641.7 483.4 643.2 484.6 644.4 485.4 C645.6 486.2 646.6 486.8 647.7 486.9 C648.8 487.0 650.0 486.5 651.1 486.0 C652.2 485.5 653.2 484.9 654.3 484.0 C655.4 483.1 656.5 481.5 657.6 480.6 C658.7 479.7 659.6 479.2 660.6 478.6 C661.6 478.0 662.5 477.8 663.5 476.7 C664.5 475.6 665.7 474.4 666.5 472.1 C667.3 469.9 667.8 466.6 668.5 463.2 C669.2 459.8 669.8 454.7 670.5 451.4 C671.2 448.1 671.9 445.3 672.8 443.5 C673.7 441.7 674.9 440.8 676.0 440.5 C677.1 440.2 678.2 440.8 679.3 441.5 C680.4 442.2 681.6 443.4 682.7 444.5 C683.8 445.6 685.1 446.9 685.9 447.8 C686.7 448.7 687.3 449.5 687.6 449.8" stroke="#045cad" stroke-width="2.8" fill="none" stroke-linejoin="round" stroke-linecap="round" clip-path="url(#cR2)"/>
<path d="M417.5 529.8v-3M417.5 408.0v3M485.1 529.8v-3M485.1 408.0v3M552.8 529.8v-3M552.8 408.0v3M620.4 529.8v-3M620.4 408.0v3M688.0 529.8v-3M688.0 408.0v3M417.5 529.8h3M688.0 529.8h-3M417.5 468.9h3M688.0 468.9h-3M417.5 408.0h3M688.0 408.0h-3" stroke="#262626" stroke-width="1.1" fill="none"/>
<rect x="417.5" y="408.0" width="270.5" height="121.8" fill="none" stroke="#262626" stroke-width="1.4"/>
<text class="tk" x="417.5" y="547.8" text-anchor="middle">20</text>
<text class="tk" x="485.1" y="547.8" text-anchor="middle">25</text>
<text class="tk" x="552.8" y="547.8" text-anchor="middle">30</text>
<text class="tk" x="620.4" y="547.8" text-anchor="middle">35</text>
<text class="tk" x="688.0" y="547.8" text-anchor="middle">40</text>
<text class="tk" x="412.5" y="535.6" text-anchor="end">-0.05</text>
<text class="tk" x="412.5" y="474.7" text-anchor="end">0</text>
<text class="tk" x="412.5" y="413.8" text-anchor="end">0.05</text>
<text class="sf" x="390.5" y="557.0" font-size="18">(f)</text>
<text class="sf" transform="translate(375.9,494.9) rotate(-90)" font-size="21"><tspan x="1.2" font-style="italic" font-size="23">η</tspan><tspan x="19.8">(m)</tspan></text>
<text class="sf" x="531.5" y="398.7" font-size="16.5" font-style="italic">F</text>
<rect x="549.45" y="393.02" width="10.6" height="0.95" fill="#1c1c1c"/>
<rect x="549.45" y="396.02" width="10.6" height="0.95" fill="#1c1c1c"/>
<text class="sf" x="566.5" y="398.9" font-size="16.5">0</text>
<path d="M75.7 584.6V706.4M89.2 584.6V706.4M102.7 584.6V706.4M116.3 584.6V706.4M143.3 584.6V706.4M156.8 584.6V706.4M170.3 584.6V706.4M183.8 584.6V706.4M210.9 584.6V706.4M224.4 584.6V706.4M237.9 584.6V706.4M251.4 584.6V706.4M278.4 584.6V706.4M292.0 584.6V706.4M305.5 584.6V706.4M319.0 584.6V706.4" stroke="#e0e0e0" stroke-width="1" stroke-dasharray="1 3" fill="none"/>
<path d="M62.2 697.0H332.5M62.2 687.7H332.5M62.2 678.3H332.5M62.2 668.9H332.5M62.2 650.2H332.5M62.2 640.8H332.5M62.2 631.4H332.5M62.2 622.1H332.5M62.2 603.3H332.5M62.2 594.0H332.5" stroke="#ebebeb" stroke-width="1" stroke-dasharray="1 3" fill="none"/>
<path d="M129.8 584.6V706.4M197.4 584.6V706.4M264.9 584.6V706.4M62.2 659.6H332.5M62.2 612.7H332.5" stroke="#d8d8d8" stroke-width="1" fill="none"/>
<path d="M62.6 669.2 L63.8 590.3 L65.1 592.0 L66.2 631.5 L67.2 681.2 L68.2 676.1 L69.4 655.5 L70.6 657.2 L72.0 667.5 L73.4 674.3 L74.8 681.2 L76.3 679.5 L78.0 678.6 L79.2 673.5 L80.6 660.6 L82.0 648.6 L83.3 645.2 L84.4 652.0 L85.4 670.9 L86.6 684.6 L88.0 688.9 L89.2 690.6 L90.5 687.2 L91.9 683.8 L93.1 679.5 L94.0 662.3 L94.8 631.5 L95.7 618.6 L96.7 624.6 L97.7 648.6 L98.8 663.2 L99.8 655.5 L100.8 655.5 L102.0 660.6 L103.2 669.2 L104.6 674.3 L106.3 670.9 L108.0 664.9 L109.4 660.6 L110.8 662.3 L111.8 659.8 L112.8 645.2 L113.9 626.3 L114.9 625.5 L115.9 645.2 L116.9 665.8 L118.3 672.6 L119.7 673.5 L121.1 677.8 L122.4 679.5 L123.8 684.6 L124.8 687.2 L126.0 686.3 L127.2 674.3 L128.6 652.0 L130.0 636.6 L131.0 634.9 L132.0 641.8 L133.4 657.2 L134.8 669.2 L136.3 676.1 L138.0 681.2 L139.2 681.2 L140.6 672.6 L142.0 664.0 L143.4 662.3 L144.7 665.8 L146.1 658.9 L147.5 657.2 L148.9 665.8 L150.2 674.3 L151.6 676.1 L153.0 670.9 L154.3 672.6 L155.4 679.0 L156.4 677.8 L157.6 665.8 L158.8 648.6 L159.8 643.5 L161.0 652.0 L162.2 676.1 L163.6 686.3 L165.0 685.5 L166.0 672.6 L167.0 648.6 L168.0 639.2 L169.1 645.2 L170.1 664.0 L171.1 674.3 L172.2 664.0 L173.2 645.2 L174.2 641.8 L175.2 648.6 L176.3 657.2 L177.3 662.3 L178.3 640.0 L179.4 607.4 L180.4 604.9 L181.4 621.2 L182.4 653.8 L183.3 665.8 L184.5 659.8 L185.9 662.3 L187.2 661.5 L188.6 664.0 L190.2 664.9 L191.9 666.6 L193.6 669.2 L194.8 670.1 L196.2 660.6 L197.2 645.2 L198.2 640.9 L199.3 648.6 L200.3 664.0 L201.3 673.5 L202.3 670.9 L203.7 660.6 L205.1 656.3 L206.1 660.6 L207.1 672.6 L208.2 675.2 L209.2 662.3 L210.2 641.8 L211.3 634.9 L212.3 638.3 L213.3 657.2 L214.3 672.6 L215.4 673.5 L216.4 662.3 L217.4 654.6 L218.5 654.6 L219.8 662.3 L221.2 673.5 L222.6 676.1 L224.0 665.8 L225.3 655.5 L226.7 652.9 L228.1 643.5 L229.4 637.5 L230.5 624.6 L231.5 612.6 L232.5 608.8 L233.6 614.3 L234.6 634.9 L235.6 653.8 L236.6 657.2 L237.7 655.5 L238.7 662.3 L239.7 670.9 L240.8 673.5 L241.8 665.8 L242.8 658.9 L243.9 657.2 L244.9 660.6 L246.0 669.2 L247.1 677.8 L248.1 672.6 L249.1 655.5 L250.1 648.6 L251.2 652.0 L252.2 669.2 L253.2 682.9 L254.3 685.5 L255.3 676.1 L256.3 660.6 L257.3 655.5 L258.4 660.6 L259.4 669.2 L260.4 670.1 L261.5 662.3 L262.5 650.3 L263.5 646.0 L264.6 652.0 L265.6 667.5 L266.6 648.6 L267.6 614.3 L268.7 600.6 L269.7 607.4 L270.7 640.0 L271.8 622.9 L272.8 616.0 L273.8 628.0 L274.8 652.0 L275.9 664.0 L276.9 665.8 L277.9 665.8 L279.0 655.5 L280.0 649.5 L281.0 652.0 L282.0 669.2 L283.1 672.6 L284.1 665.8 L285.1 657.2 L286.2 653.8 L287.5 652.0 L288.9 653.8 L290.3 658.9 L291.7 665.8 L293.0 667.5 L294.4 658.9 L295.4 651.2 L296.5 652.0 L297.5 660.6 L298.5 662.3 L299.9 664.0 L301.3 667.5 L302.6 669.2 L304.0 664.0 L305.0 660.6 L306.1 662.3 L307.1 672.6 L308.1 670.9 L309.2 648.6 L310.2 621.2 L311.2 617.7 L312.2 631.5 L313.3 665.8 L314.3 662.3 L315.3 614.3 L316.4 590.3 L317.4 588.6 L318.4 597.2 L319.4 631.5 L320.5 652.0 L321.5 650.3 L322.5 657.2 L323.6 665.8 L324.6 655.5 L325.6 657.2 L326.6 664.0 L327.7 666.6 L328.7 662.3 L329.7 663.2 L330.8 660.6 L332.0 662.3" stroke="#045cad" stroke-width="2.8" fill="none" stroke-linejoin="round" stroke-linecap="round" clip-path="url(#cL3)"/>
<path d="M62.2 706.4v-3M62.2 584.6v3M129.8 706.4v-3M129.8 584.6v3M197.4 706.4v-3M197.4 584.6v3M264.9 706.4v-3M264.9 584.6v3M332.5 706.4v-3M332.5 584.6v3M62.2 706.4h3M332.5 706.4h-3M62.2 659.6h3M332.5 659.6h-3M62.2 612.7h3M332.5 612.7h-3" stroke="#262626" stroke-width="1.1" fill="none"/>
<rect x="62.2" y="584.6" width="270.3" height="121.8" fill="none" stroke="#262626" stroke-width="1.4"/>
<text class="tk" x="62.2" y="724.4" text-anchor="middle">0</text>
<text class="tk" x="129.8" y="724.4" text-anchor="middle">5</text>
<text class="tk" x="197.4" y="724.4" text-anchor="middle">10</text>
<text class="tk" x="264.9" y="724.4" text-anchor="middle">15</text>
<text class="tk" x="332.5" y="724.4" text-anchor="middle">20</text>
<text class="tk" x="57.2" y="712.2" text-anchor="end">-0.05</text>
<text class="tk" x="57.2" y="665.4" text-anchor="end">0</text>
<text class="tk" x="57.2" y="618.5" text-anchor="end">0.05</text>
<text class="sf" x="35.2" y="733.6" font-size="18">(g)</text>
<text class="sf" transform="translate(20.6,671.5) rotate(-90)" font-size="21"><tspan x="1.2" font-style="italic" font-size="23">η</tspan><tspan x="19.8">(m)</tspan></text>
<text class="sf" x="176.2" y="575.3" font-size="16.5" font-style="italic">F</text>
<rect x="194.04999999999998" y="569.62" width="10.6" height="0.95" fill="#1c1c1c"/>
<rect x="194.04999999999998" y="572.62" width="10.6" height="0.95" fill="#1c1c1c"/>
<text class="sf" x="211.2" y="575.5" font-size="16.5">1</text>
<path d="M431.0 584.6V706.4M444.6 584.6V706.4M458.1 584.6V706.4M471.6 584.6V706.4M498.6 584.6V706.4M512.2 584.6V706.4M525.7 584.6V706.4M539.2 584.6V706.4M566.3 584.6V706.4M579.8 584.6V706.4M593.3 584.6V706.4M606.9 584.6V706.4M633.9 584.6V706.4M647.4 584.6V706.4M661.0 584.6V706.4M674.5 584.6V706.4" stroke="#e0e0e0" stroke-width="1" stroke-dasharray="1 3" fill="none"/>
<path d="M417.5 694.2H688.0M417.5 682.0H688.0M417.5 669.9H688.0M417.5 657.7H688.0M417.5 633.3H688.0M417.5 621.1H688.0M417.5 609.0H688.0M417.5 596.8H688.0" stroke="#ebebeb" stroke-width="1" stroke-dasharray="1 3" fill="none"/>
<path d="M485.1 584.6V706.4M552.8 584.6V706.4M620.4 584.6V706.4M417.5 645.5H688.0" stroke="#d8d8d8" stroke-width="1" fill="none"/>
<path d="M418.1 648.6 L419.1 657.2 L420.1 645.2 L421.2 655.5 L422.2 643.5 L423.2 657.2 L424.3 652.0 L425.3 643.5 L426.3 639.2 L427.3 640.9 L428.4 652.0 L429.8 658.9 L430.8 660.6 L431.8 652.0 L432.8 645.2 L433.9 646.0 L434.9 650.3 L435.9 648.6 L437.0 652.0 L438.0 655.5 L439.0 653.8 L440.0 649.5 L441.1 650.3 L442.1 648.6 L443.1 649.5 L444.2 646.9 L445.2 648.6 L446.2 641.8 L447.2 634.9 L448.3 641.8 L449.3 650.3 L450.3 652.0 L451.4 645.2 L452.4 648.6 L453.4 652.0 L454.5 653.8 L455.5 655.5 L456.5 648.6 L457.5 647.8 L458.6 653.8 L459.6 662.3 L460.6 664.0 L461.7 658.9 L463.0 657.2 L464.4 658.0 L465.8 658.9 L467.1 656.3 L468.2 652.0 L469.2 648.6 L470.2 650.3 L471.3 655.5 L472.3 655.5 L473.3 656.3 L474.3 658.9 L475.4 658.9 L476.4 662.3 L477.4 667.5 L478.5 670.9 L479.5 665.8 L480.5 652.0 L481.6 634.9 L482.6 622.9 L483.6 616.9 L484.6 628.0 L485.7 660.6 L486.7 653.8 L487.7 662.3 L488.8 655.5 L489.8 631.5 L490.8 610.9 L491.8 599.7 L492.9 604.0 L493.9 628.0 L494.9 614.3 L496.0 601.4 L497.0 604.0 L498.0 614.3 L499.0 624.6 L500.1 626.3 L501.1 626.3 L502.1 624.6 L503.2 622.9 L504.2 629.7 L505.3 640.0 L506.4 653.8 L507.6 655.5 L508.8 652.0 L510.1 647.8 L511.5 645.2 L512.7 646.9 L513.9 653.8 L514.9 657.2 L516.1 656.3 L517.3 654.6 L518.7 655.5 L520.1 653.8 L521.3 654.6 L522.5 658.9 L523.9 659.8 L525.2 662.3 L526.4 661.5 L527.6 657.2 L529.0 656.3 L530.4 652.0 L531.6 631.5 L532.8 607.4 L533.8 608.3 L535.0 622.9 L535.9 634.9 L537.2 638.3 L538.6 641.8 L540.0 648.6 L541.0 643.5 L542.0 638.3 L543.1 640.0 L544.1 642.6 L545.1 631.5 L546.2 627.2 L547.2 640.0 L548.2 657.2 L549.3 640.0 L550.3 593.7 L551.3 590.3 L552.3 614.3 L553.4 653.8 L554.4 643.5 L555.4 650.3 L556.5 652.0 L557.5 653.8 L558.5 653.8 L559.5 652.0 L560.6 645.2 L561.6 631.5 L562.6 628.9 L563.7 631.5 L564.7 641.8 L565.7 646.9 L566.7 638.3 L567.8 634.9 L568.8 636.6 L569.8 639.2 L570.9 638.3 L571.9 640.0 L572.9 637.5 L574.0 634.9 L575.0 635.7 L576.0 641.8 L577.0 648.6 L578.1 655.5 L579.1 660.6 L580.1 663.2 L581.2 662.3 L582.2 658.9 L583.2 657.2 L584.2 658.9 L585.3 655.5 L586.3 652.0 L587.3 648.6 L588.4 645.2 L589.4 641.8 L590.4 642.6 L591.4 648.6 L592.5 657.2 L593.5 658.9 L594.5 656.0 L595.5 652.0 L597.1 648.6 L598.8 640.0 L600.5 640.0 L601.9 646.9 L602.9 652.0 L603.9 641.8 L605.0 633.2 L606.0 638.3 L607.0 650.3 L608.0 648.6 L609.1 628.0 L610.1 609.2 L611.1 617.7 L612.2 645.2 L613.2 657.2 L614.2 655.5 L615.2 645.2 L616.3 631.5 L617.3 626.3 L618.3 631.5 L619.4 645.2 L620.4 655.5 L621.6 653.8 L622.8 652.0 L624.2 657.2 L625.5 659.8 L626.9 658.0 L628.3 658.0 L629.3 655.5 L630.3 648.6 L631.4 645.2 L632.4 643.5 L633.4 629.7 L634.5 615.2 L635.5 617.7 L636.5 650.3 L637.5 634.9 L638.6 633.2 L639.6 652.0 L640.6 653.8 L641.7 631.5 L642.3 597.2 L643.0 580.0 L644.1 580.0 L644.7 614.3 L645.4 638.3 L646.1 622.9 L646.8 621.2 L647.8 631.5 L648.9 657.2 L649.9 660.6 L650.6 631.5 L651.3 597.2 L651.9 580.0 L653.0 580.0 L654.0 605.7 L655.0 655.5 L655.7 657.2 L656.4 631.5 L657.1 597.2 L657.8 580.0 L658.8 580.0 L659.5 614.3 L660.2 665.8 L660.9 672.6 L661.6 657.2 L662.6 631.5 L663.6 633.2 L664.6 641.8 L665.7 648.6 L666.7 652.0 L667.7 653.8 L668.8 646.9 L669.8 645.2 L670.8 650.3 L671.8 660.6 L672.9 665.8 L674.2 669.2 L675.6 664.0 L677.0 658.9 L678.4 655.5 L679.7 636.6 L681.1 624.6 L682.1 624.6 L683.2 634.9 L684.2 646.9 L685.6 653.8 L686.9 658.9 L687.6 659.8" stroke="#045cad" stroke-width="2.8" fill="none" stroke-linejoin="round" stroke-linecap="round" clip-path="url(#cR3)"/>
<path d="M417.5 706.4v-3M417.5 584.6v3M485.1 706.4v-3M485.1 584.6v3M552.8 706.4v-3M552.8 584.6v3M620.4 706.4v-3M620.4 584.6v3M688.0 706.4v-3M688.0 584.6v3M417.5 706.4h3M688.0 706.4h-3M417.5 645.5h3M688.0 645.5h-3M417.5 584.6h3M688.0 584.6h-3" stroke="#262626" stroke-width="1.1" fill="none"/>
<rect x="417.5" y="584.6" width="270.5" height="121.8" fill="none" stroke="#262626" stroke-width="1.4"/>
<text class="tk" x="417.5" y="724.4" text-anchor="middle">20</text>
<text class="tk" x="485.1" y="724.4" text-anchor="middle">25</text>
<text class="tk" x="552.8" y="724.4" text-anchor="middle">30</text>
<text class="tk" x="620.4" y="724.4" text-anchor="middle">35</text>
<text class="tk" x="688.0" y="724.4" text-anchor="middle">40</text>
<text class="tk" x="412.5" y="712.2" text-anchor="end">-0.05</text>
<text class="tk" x="412.5" y="651.3" text-anchor="end">0</text>
<text class="tk" x="412.5" y="590.4" text-anchor="end">0.05</text>
<text class="sf" x="390.5" y="733.6" font-size="18">(h)</text>
<text class="sf" transform="translate(375.9,671.5) rotate(-90)" font-size="21"><tspan x="1.2" font-style="italic" font-size="23">η</tspan><tspan x="19.8">(m)</tspan></text>
<text class="sf" x="531.5" y="575.3" font-size="16.5" font-style="italic">F</text>
<rect x="549.45" y="569.62" width="10.6" height="0.95" fill="#1c1c1c"/>
<rect x="549.45" y="572.62" width="10.6" height="0.95" fill="#1c1c1c"/>
<text class="sf" x="566.5" y="575.5" font-size="16.5">1</text>
<text class="sf" font-size="18"><tspan x="38.7" y="17.4" letter-spacing="0.35">Case</tspan><tspan x="81.0" y="17.4">B</tspan><tspan x="98.3" y="17.4">of</tspan><tspan x="118.6" y="17.4">BK94,</tspan><tspan x="172.4" y="17.4" font-style="italic" font-size="19">h</tspan><tspan x="208.7" y="17.4">10</tspan><tspan x="231.1" y="17.4">cm</tspan><tspan x="260.0" y="17.4">(</tspan><tspan x="265.9" y="17.4" font-style="italic" font-size="19">k</tspan><tspan x="274.5" y="20.6" font-style="italic" font-size="14">p</tspan><tspan x="282.4" y="17.4" font-style="italic" font-size="19">h</tspan><tspan x="317.4" y="17.4">0.14</tspan><tspan x="348.6" y="17.4">)</tspan></text>
<rect x="189.5" y="9.32" width="12.1" height="0.95" fill="#1c1c1c"/>
<rect x="189.5" y="13.22" width="12.1" height="0.95" fill="#1c1c1c"/>
<rect x="299.9" y="9.32" width="11.6" height="0.95" fill="#1c1c1c"/>
<rect x="299.9" y="13.22" width="11.6" height="0.95" fill="#1c1c1c"/>
<text class="sf" font-size="18"><tspan x="398.2" y="19.1" letter-spacing="0.35">Case</tspan><tspan x="439.9" y="19.1">B</tspan><tspan x="457.3" y="19.1">of</tspan><tspan x="477.6" y="19.1">BK94,</tspan><tspan x="532.4" y="19.1" font-style="italic" font-size="19">h</tspan><tspan x="567.4" y="19.1">7</tspan><tspan x="582.0" y="19.1">cm</tspan><tspan x="611.3" y="19.1">(</tspan><tspan x="617.2" y="19.1" font-style="italic" font-size="19">k</tspan><tspan x="625.8" y="22.3" font-style="italic" font-size="14">p</tspan><tspan x="632.8" y="19.1" font-style="italic" font-size="19">h</tspan><tspan x="668.7" y="19.1">0.12</tspan><tspan x="698.8" y="19.1">)</tspan></text>
<rect x="549.2" y="11.03" width="11.8" height="0.95" fill="#1c1c1c"/>
<rect x="549.2" y="14.93" width="11.8" height="0.95" fill="#1c1c1c"/>
<rect x="650.8" y="11.03" width="11.5" height="0.95" fill="#1c1c1c"/>
<rect x="650.8" y="14.93" width="11.5" height="0.95" fill="#1c1c1c"/>
<text class="sf" x="160.5" y="744.1" font-size="22" word-spacing="-0.6">Time (s)</text>
<text class="sf" x="516.2" y="744.1" font-size="22" word-spacing="-0.6">Time (s)</text>
</svg></body></html>
